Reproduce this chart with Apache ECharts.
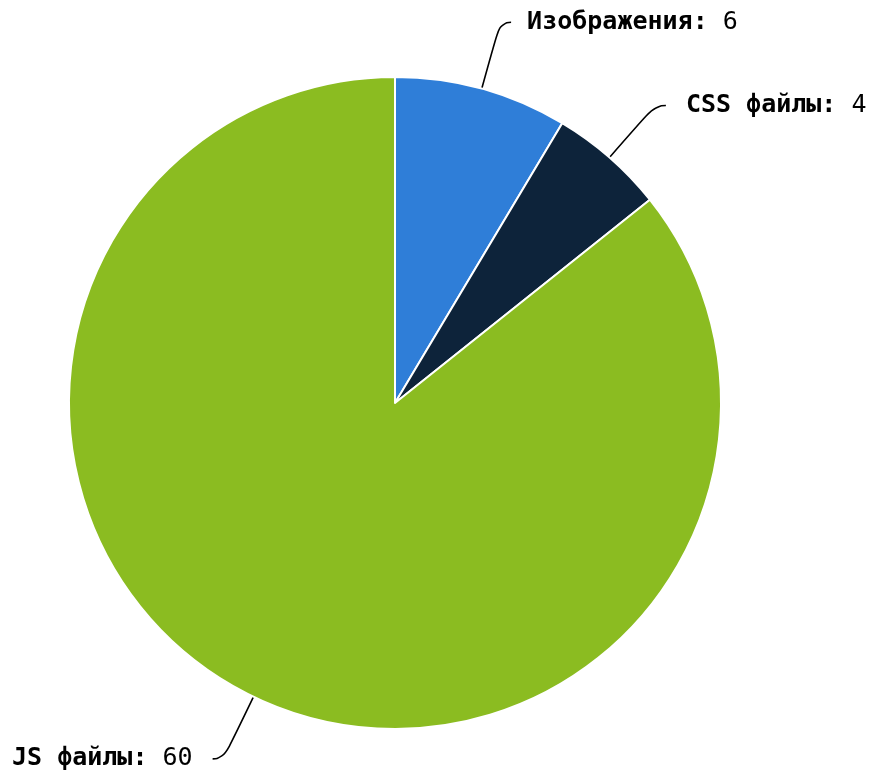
<!DOCTYPE html>
<html>
<head>
<meta charset="utf-8">
<script src="https://cdn.jsdelivr.net/npm/echarts@6/dist/echarts.min.js"></script>
<style>
html,body{margin:0;padding:0;background:#fff;}
#chart{width:870px;height:775px;}
</style>
</head>
<body>
<div id="chart"></div>
<script>
const categories = ['Изображения', 'CSS файлы', 'JS файлы'];
const values = [6, 4, 60];
const colors = ['#2f7ed8', '#0d233a', '#8bbc21'];
const labelGaps = [16, 20, 20];

const chart = echarts.init(document.getElementById('chart'));
chart.setOption({
  animation: false,
  series: [{
    type: 'pie',
    left: 0,
    top: 0,
    right: -60,
    bottom: -40,
    center: [395, 403],
    radius: 326,
    startAngle: 90,
    clockwise: true,
    avoidLabelOverlap: false,
    itemStyle: { borderColor: '#ffffff', borderWidth: 2 },
    label: {
      show: true,
      formatter: '{n|{b}:} {v|{c}}',
      fontFamily: 'DejaVu Sans Mono',
      fontSize: 25,
      color: '#000',
      overflow: 'none',
      distanceToLabelLine: 16,
      rich: {
        n: { fontFamily: 'DejaVu Sans Mono', fontSize: 25, fontWeight: 'bold', color: '#000' },
        v: { fontFamily: 'DejaVu Sans Mono', fontSize: 25, fontWeight: 'normal', color: '#000' }
      }
    },
    labelLine: {
      show: true,
      length: 69,
      length2: 11,
      smooth: 0.6,
      lineStyle: { color: '#000', width: 1.6 }
    },
    emphasis: { disabled: true },
    data: categories.map((c, i) => ({
      name: c,
      value: values[i],
      itemStyle: { color: colors[i] },
      label: { distanceToLabelLine: labelGaps[i] }
    }))
  }]
});
</script>
</body>
</html>
